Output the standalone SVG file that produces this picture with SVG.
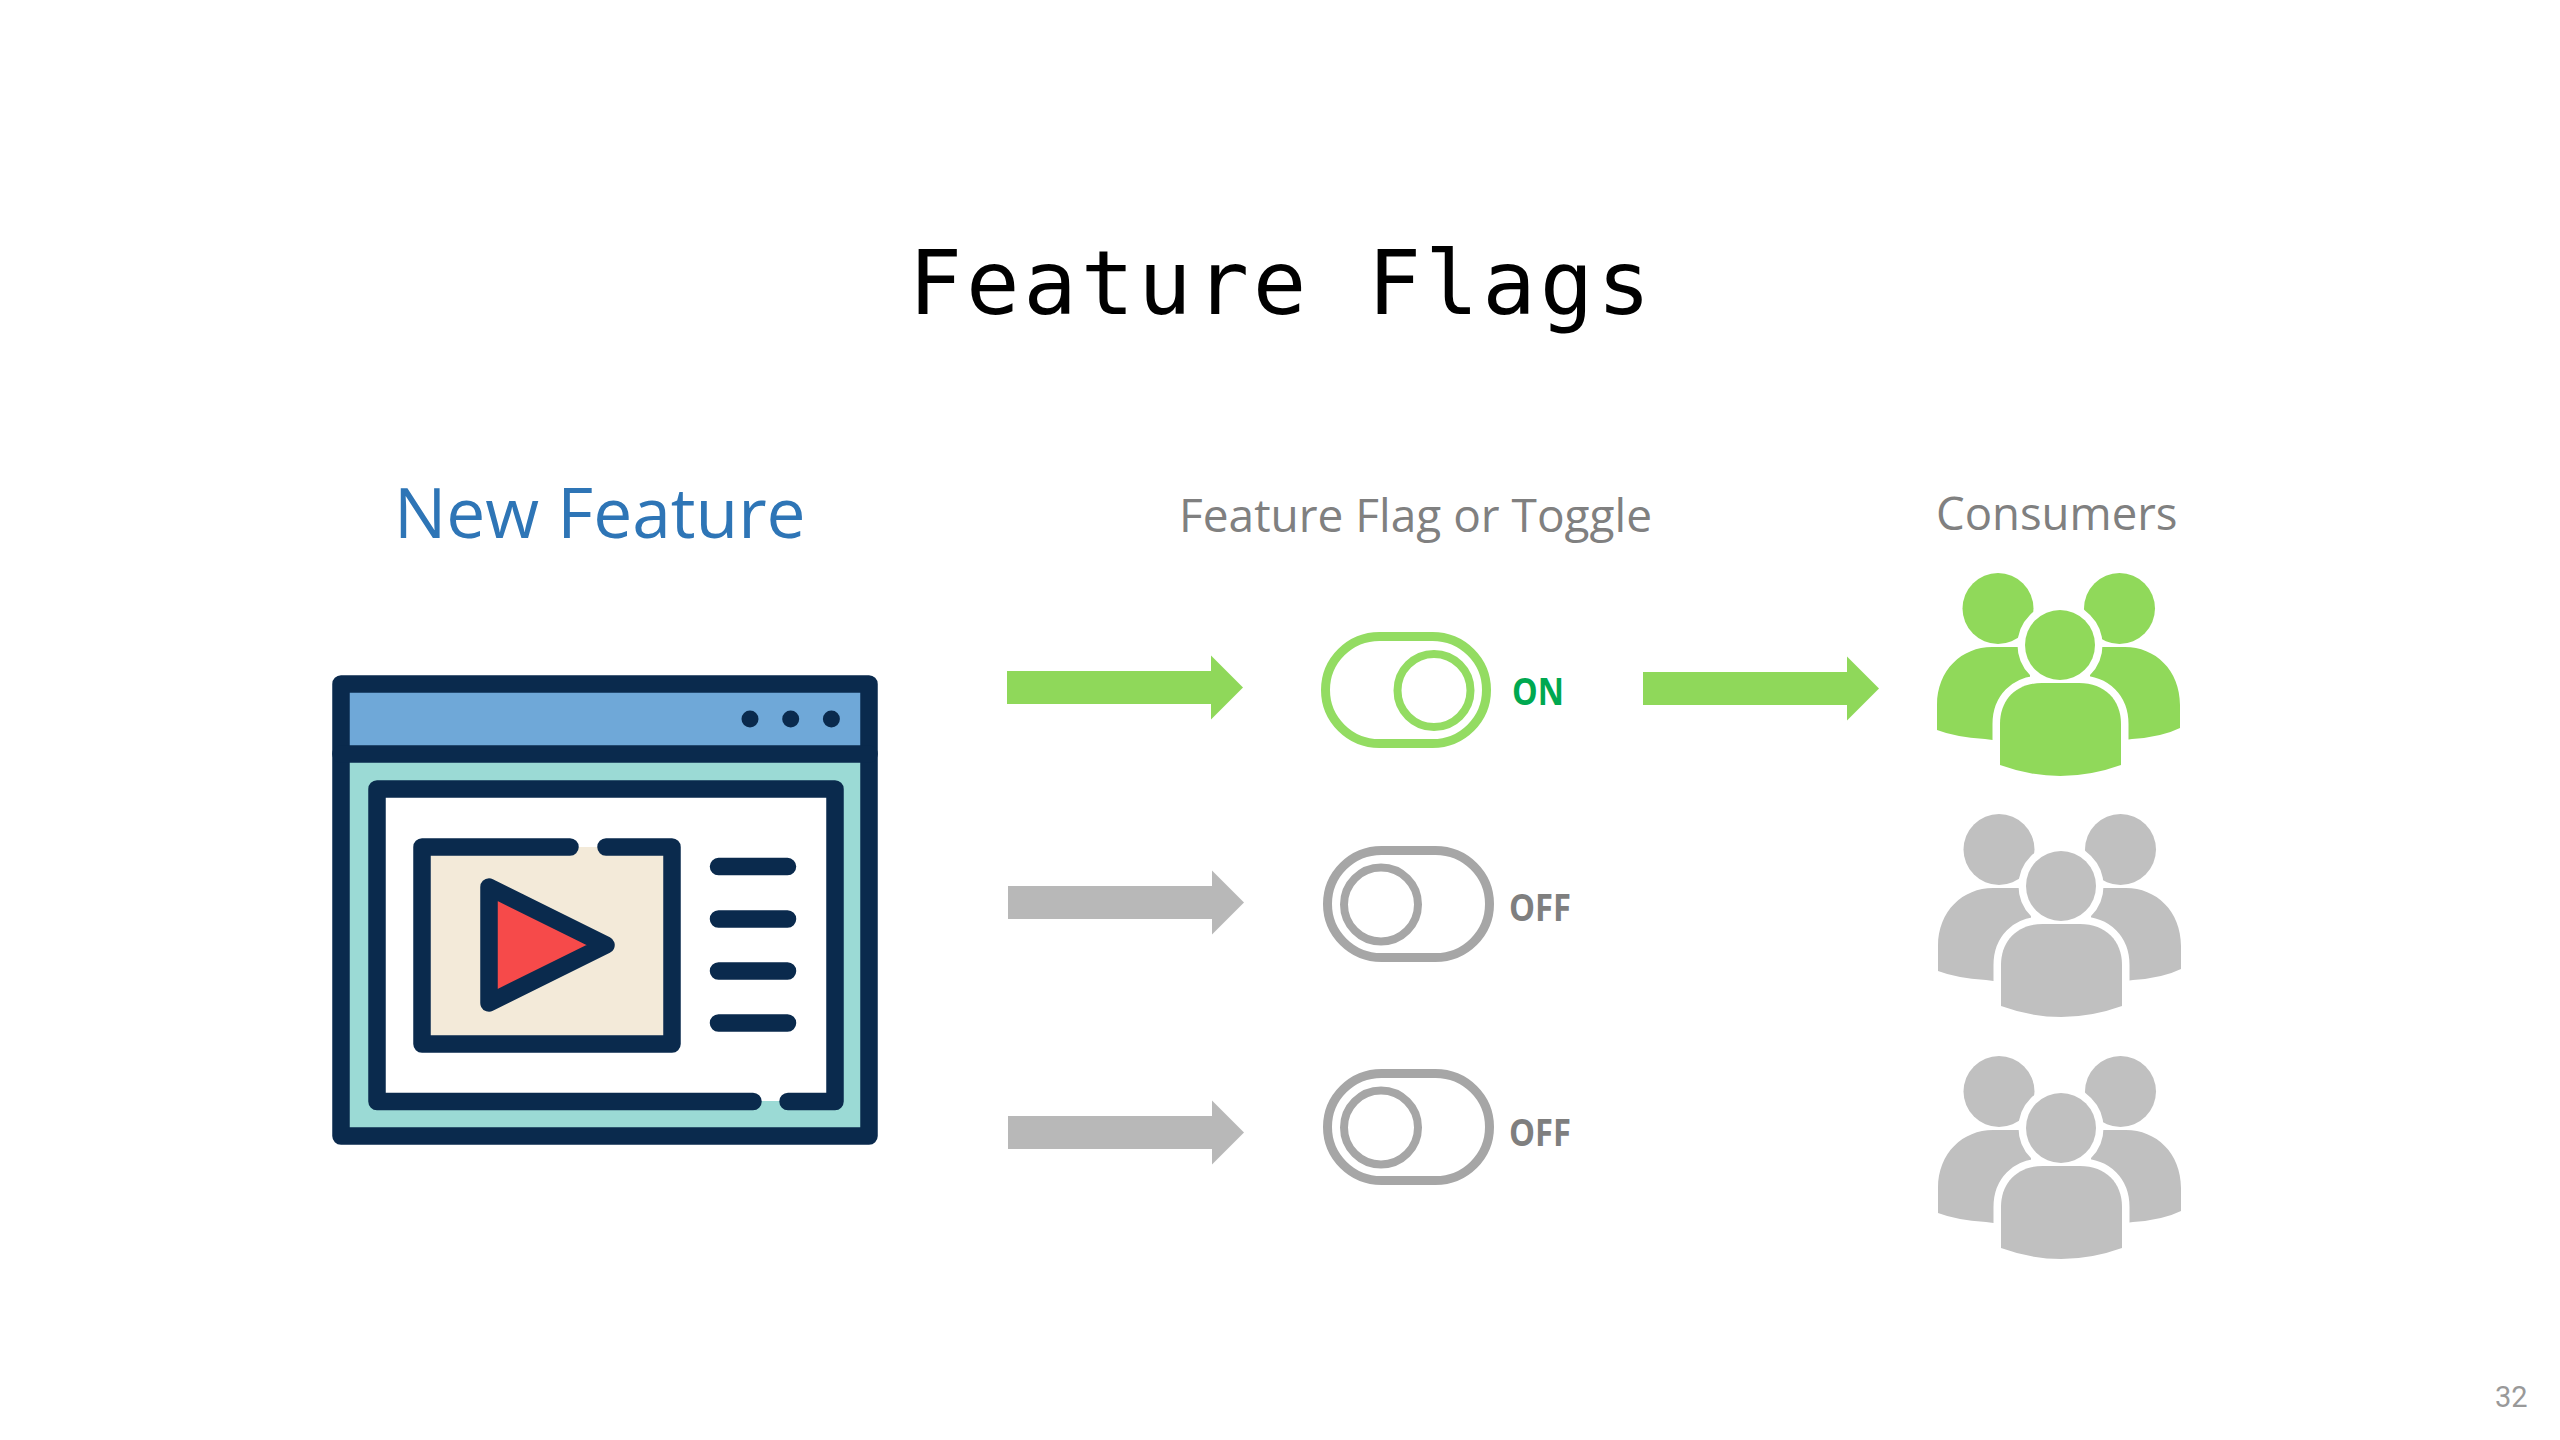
<svg xmlns="http://www.w3.org/2000/svg" width="2560" height="1440" viewBox="0 0 2560 1440">
  <style>
    .navy { stroke: #0a2a4d; stroke-width: 17.5; stroke-linejoin: round; stroke-linecap: round; fill: none; }
    .sans { font-family: "Open Sans", "Noto Sans", sans-serif; }
    .green { fill: #90d95a; }
    .grey { fill: #c0c0c0; }
    .arrow-green { fill: #8fd85a; }
    .arrow-grey { fill: #b8b8b8; }
    .ring { fill: #ffffff; stroke: #ffffff; stroke-width: 15; stroke-linejoin: round; }
    .track { fill: #ffffff; stroke-width: 9; }
    .knob { fill: #ffffff; stroke-width: 8; }
    .on { stroke: #93dc62; }
    .off { stroke: #a6a6a6; }
    .state { font-family: "Open Sans", "Noto Sans", sans-serif; font-weight: 700; font-size: 37px; }
  </style>
  <defs>
    <path id="arrowhead-shape" d="M0 -16.5H204V-32L236 0L204 32V16.5H0Z"/>
    <g id="crowd">
      <circle cx="1998" cy="608.5" r="35.5"/>
      <circle cx="2119.500" cy="608.5" r="35.5"/>
      <path d="M1937 730V705C1937 670 1962 647 1992 647H2030V745L1985 739Q1955 737 1937 730Z"/>
      <path d="M2180 728V705C2180 670 2155 647 2125 647H2090V745L2132 739Q2162 737 2180 728Z"/>
      <circle class="ring" cx="2060" cy="645" r="35"/>
      <path class="ring" d="M2000 765V724C2000 700 2016 683 2042 683H2079C2105 683 2121 700 2121 724V765Q2060 787 2000 765Z"/>
      <circle cx="2060" cy="645" r="35"/>
      <path d="M2000 765V724C2000 700 2016 683 2042 683H2079C2105 683 2121 700 2121 724V765Q2060 787 2000 765Z"/>
    </g>
  </defs>

  <rect width="2560" height="1440" fill="#ffffff"/>

  <text id="title" x="1281.500" y="314" text-anchor="middle" font-family="'DejaVu Sans Mono', monospace" font-size="89" letter-spacing="3.8" fill="#000000">Feature Flags</text>

  <g id="new-feature">
    <text class="sans" x="394" y="538" font-size="69.500" fill="#2e75b6">New Feature</text>
    <rect x="341" y="684" width="528" height="452" fill="#9bdad5"/>
    <rect x="341" y="684" width="528" height="70" fill="#6fa8d8"/>
    <rect x="377" y="789" width="458" height="312" fill="#ffffff"/>
    <rect x="422" y="847" width="250" height="197" fill="#f3ead9"/>
    <path class="navy" d="M341 684H869V1136H341Z"/>
    <path class="navy" d="M341 754H869"/>
    <circle cx="750" cy="719" r="8.5" fill="#0a2a4d"/>
    <circle cx="790.700" cy="719" r="8.5" fill="#0a2a4d"/>
    <circle cx="831.400" cy="719" r="8.5" fill="#0a2a4d"/>
    <path class="navy" d="M753 1101.500H377V789H835V1101.500H788"/>
    <path class="navy" d="M570 847H422V1044H672V847H606"/>
    <path class="navy" style="fill:#f64a4a" d="M489 887L606 945L489 1003Z"/>
    <path class="navy" d="M718.500 866.600H787.500M718.500 919H787.500M718.500 971H787.500M718.500 1023H787.500"/>
  </g>

  <g id="connectors">
    <use href="#arrowhead-shape" class="arrow-green" x="1007" y="687.500"/>
    <use href="#arrowhead-shape" class="arrow-green" x="1643" y="688.500"/>
    <use href="#arrowhead-shape" class="arrow-grey" x="1008" y="902.500"/>
    <use href="#arrowhead-shape" class="arrow-grey" x="1008" y="1132.500"/>
  </g>

  <g id="flag-heading">
    <text class="sans" x="1179" y="532" font-size="46" fill="#808080">Feature Flag or Toggle</text>
  </g>

  <g id="toggle-on">
    <rect class="track on" x="1325.500" y="636.500" width="161" height="107" rx="54" ry="54"/>
    <circle class="knob on" cx="1434" cy="690.500" r="36.500"/>
    <text class="state" x="1512" y="705" fill="#00a850" textLength="52" lengthAdjust="spacingAndGlyphs">ON</text>
  </g>
  <g id="toggle-off-1">
    <rect class="track off" x="1327.500" y="850.500" width="162" height="107" rx="54" ry="54"/>
    <circle class="knob off" cx="1381" cy="904.500" r="37"/>
    <text class="state" x="1509" y="921" fill="#7f7f7f" textLength="62" lengthAdjust="spacingAndGlyphs">OFF</text>
  </g>
  <g id="toggle-off-2">
    <rect class="track off" x="1327.500" y="1073.500" width="162" height="107" rx="54" ry="54"/>
    <circle class="knob off" cx="1381" cy="1127.500" r="37"/>
    <text class="state" x="1509" y="1146" fill="#7f7f7f" textLength="62" lengthAdjust="spacingAndGlyphs">OFF</text>
  </g>

  <g id="consumers">
    <text class="sans" x="1936" y="530" font-size="45.500" fill="#808080">Consumers</text>
    <use href="#crowd" class="green"/>
    <use href="#crowd" class="grey" x="1" y="241"/>
    <use href="#crowd" class="grey" x="1" y="483"/>
  </g>

  <text id="page-number" x="2495" y="1407" font-family="Roboto, sans-serif" font-size="29" fill="#999999">32</text>
</svg>
